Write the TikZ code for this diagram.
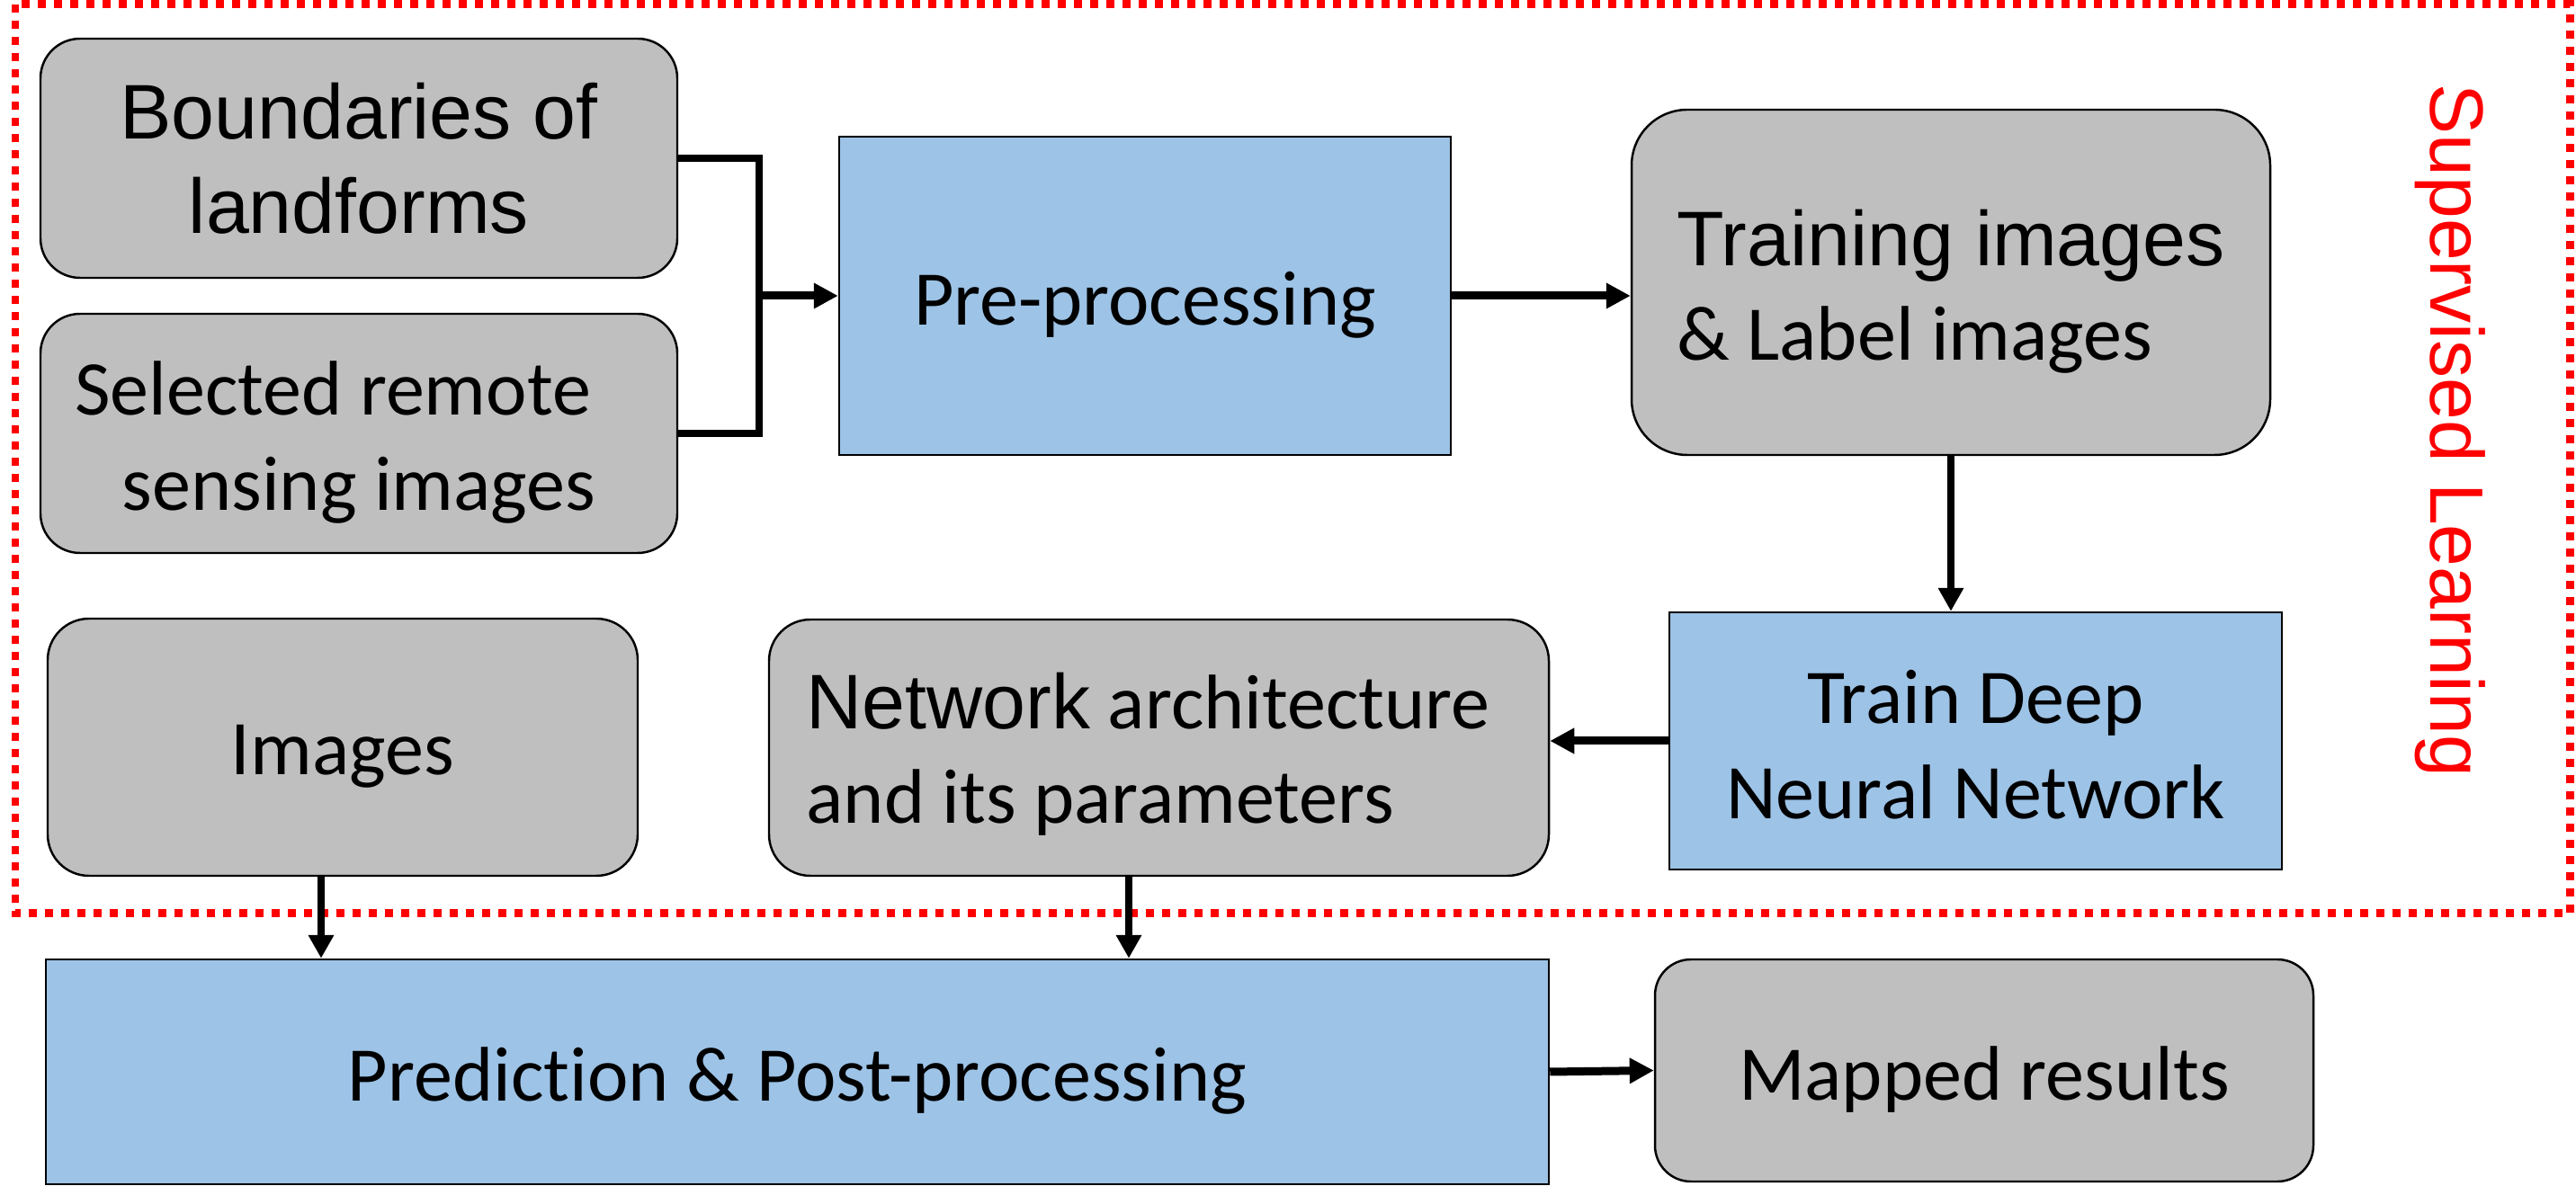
\documentclass[tikz,border=0pt]{standalone}
\usepackage{fontspec}
\setmainfont{Carlito}[Ligatures=NoCommon]
\newfontfamily\arialfont{Liberation Sans}
\usetikzlibrary{arrows.meta}
\definecolor{boxgray}{RGB}{191,191,191}
\definecolor{boxblue}{RGB}{157,195,230}

\begin{document}
\begin{tikzpicture}[line cap=butt,line join=miter,x=1.0cm,y=1.0cm,
    graybox/.style={draw,line width=0.7pt,fill=boxgray,rounded corners=#1,inner sep=0pt},
    graybox/.default=0.44cm,
    bluebox/.style={draw,line width=0.7pt,fill=boxblue,inner sep=0pt},
    boxtext/.style={font=\fontsize{24.5}{30}\selectfont,inner sep=0pt,yshift=-0.1cm},
    flowarrow/.style={-{Triangle[length=0.27cm,width=0.27cm]},line width=0.09cm},
    downarrow/.style={-{Triangle[length=0.26cm,width=0.27cm]},line width=0.075cm}]

    \useasboundingbox (0,0) rectangle (28.64,13.28);

    % supervised learning frame
    \draw [red,line width=0.09cm,dash pattern=on 0.09cm off 0.09cm] (0.17,13.23) rectangle (28.57,3.12);
    \node [red,rotate=-90,anchor=base,font=\arialfont\fontsize{23.9}{28}\selectfont] (sup) at (27.02,8.49) {Supervised Learning};

    % inputs
    \node [graybox,minimum width=7.08cm,minimum height=2.66cm,
        label={[boxtext,yshift=0.1cm,align=center]center:{\arialfont Boundaries of\\\arialfont landforms}}] (bound) at (3.99,11.52) {};
    \node [graybox,minimum width=7.08cm,minimum height=2.66cm,
        label={[boxtext,align=center]center:{Selected remote\hspace*{0.58cm}\\sensing images}}] (sel) at (3.99,8.46) {};
    \node [bluebox,minimum width=6.80cm,minimum height=3.54cm,
        label={[boxtext]center:Pre-processing}] (pre) at (12.73,9.99) {};
    \node [graybox=0.62cm,minimum width=7.10cm,minimum height=3.84cm,
        label={[boxtext,align=left]center:{{\arialfont Training images}\\\& Label images}}] (train) at (21.69,10.14) {};

    % training
    \node [bluebox,minimum width=6.81cm,minimum height=2.86cm,
        label={[boxtext,yshift=0.06cm,align=center]center:{Train Deep\\Neural Network}}] (tdnn) at (21.965,5.04) {};
    \node [graybox=0.46cm,minimum width=8.67cm,minimum height=2.85cm,
        label={[boxtext,yshift=0.03cm,xshift=-0.12cm,align=left]center:{{\arialfont Network} architecture\\and its parameters}}] (net) at (12.885,4.965) {};
    \node [graybox=0.46cm,minimum width=6.56cm,minimum height=2.86cm,
        label={[boxtext]center:Images}] (img) at (3.81,4.97) {};

    % prediction
    \node [bluebox,minimum width=16.71cm,minimum height=2.50cm,
        label={[boxtext]center:Prediction \& Post-processing}] (pred) at (8.865,1.36) {};
    \node [graybox=0.40cm,minimum width=7.32cm,minimum height=2.47cm,
        label={[boxtext]center:Mapped results}] (mapped) at (22.06,1.375) {};

    % connectors
    \coordinate (join) at (8.44,9.99);
    \draw [line width=0.08cm] (bound.east) -| (join) |- (sel.east);
    \draw [flowarrow] (join) -- (pre.west);
    \draw [flowarrow] (pre.east) -- (pre.east -| train.west);
    \draw [downarrow] (train.south) -- (train.south |- tdnn.north);
    \draw [flowarrow] (tdnn.west) -- (tdnn.west -| net.east);
    \draw [downarrow] ([xshift=-0.24cm]img.south) -- ([xshift=-0.24cm]img.south |- pred.north);
    \draw [downarrow] ([xshift=-0.335cm]net.south) -- ([xshift=-0.335cm]net.south |- pred.north);
    \draw [flowarrow] (pred.east) -- (mapped.west);
\end{tikzpicture}
\end{document}
